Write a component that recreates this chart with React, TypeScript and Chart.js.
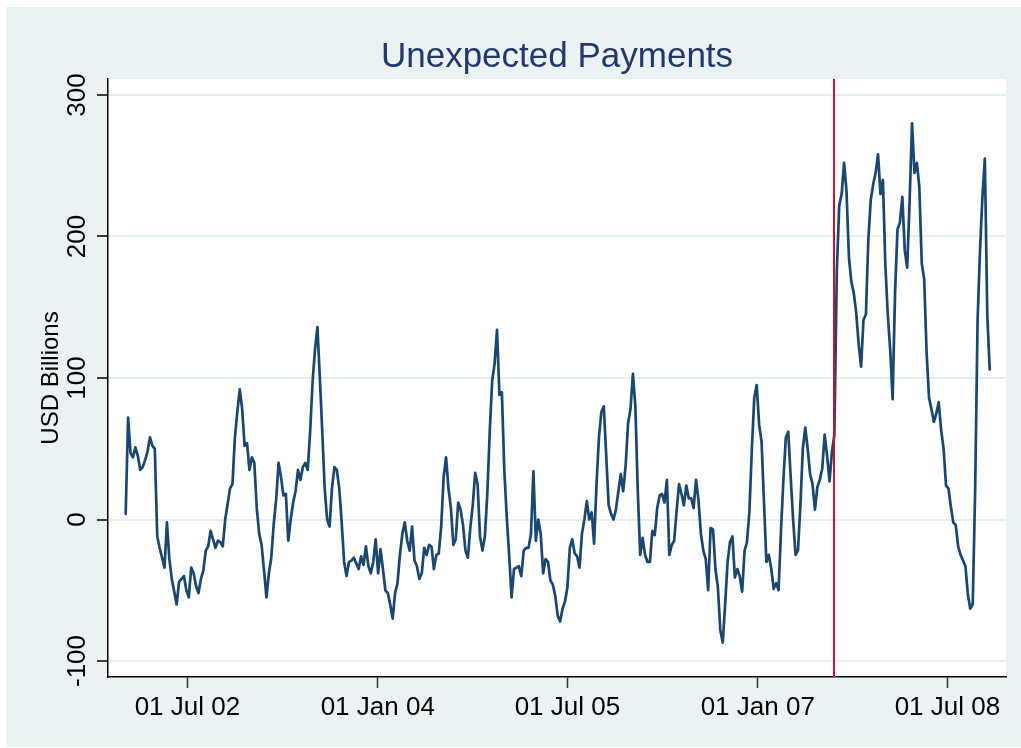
import React, { useEffect, useRef } from 'react';
import { Chart, registerables } from 'chart.js';

Chart.register(...registerables);

// ---- data ----
const START_DATE = '2002-01-04';
const STEP_DAYS = 7;
const values = [
  4, 72, 47, 44, 51, 45, 35, 37, 42, 48,
  58, 52, 50, -12, -20, -27, -34, -2, -28, -42,
  -51, -60, -44, -42, -40, -50, -55, -34, -38, -47,
  -52, -42, -36, -22, -19, -8, -14, -20, -15, -16,
  -19, 0, 11, 22, 25, 58, 76, 92, 78, 52,
  54, 35, 44, 40, 8, -10, -18, -36, -55, -38,
  -27, -3, 14, 40, 30, 17, 18, -15, 0, 12,
  20, 35, 28, 37, 40, 35, 62, 97, 120, 136,
  100, 62, 22, 0, -5, 22, 37, 35, 22, -2,
  -30, -40, -30, -29, -27, -31, -35, -26, -32, -19,
  -33, -38, -30, -14, -38, -21, -35, -50, -52, -60,
  -70, -52, -45, -25, -10, -2, -15, -22, -5, -29,
  -33, -42, -38, -20, -25, -18, -19, -35, -25, -24,
  -5, 30, 44, 22, 8, -18, -14, 12, 7, -4,
  -22, -27, -6, 10, 33, 25, -12, -22, -12, 18,
  62, 98, 110, 134, 88, 90, 35, 2, -25, -55,
  -35, -34, -33, -40, -22, -20, -20, -10, 34, -15,
  0, -10, -38, -28, -30, -43, -46, -54, -68, -72,
  -63, -58, -48, -20, -14, -24, -26, -34, -10, 0,
  13, 0, 5, -17, 25, 58, 76, 80, 45, 10,
  4, 0, 7, 20, 32, 20, 38, 68, 78, 103,
  80, 20, -25, -13, -25, -30, -30, -8, -11, 8,
  17, 18, 12, 28, -25, -18, -15, 6, 25, 18,
  10, 24, 15, 15, 8, 28, 14, -10, -22, -28,
  -50, -6, -7, -35, -48, -78, -87, -60, -30, -16,
  -12, -41, -35, -40, -51, -22, -16, 6, 50, 86,
  95, 67, 55, 12, -30, -25, -35, -49, -45, -50,
  -8, 28, 58, 62, 30, 0, -25, -22, 10, 50,
  65, 50, 32, 25, 7, 23, 28, 36, 60, 45,
  27, 48, 60, 175, 222, 230, 252, 232, 185, 168,
  160, 146, 124, 108, 141, 145, 198, 226, 237, 245,
  258, 230, 240, 180, 145, 120, 85, 160, 205, 210,
  228, 190, 178, 225, 280, 245, 252, 235, 181, 170,
  118, 86, 78, 69, 75, 83, 63, 50, 24, 22,
  9, -2, -4, -19, -25, -29, -33, -53, -63, -60,
  20, 140, 190, 228, 255, 145, 106,
];
const yTicks = [-100, 0, 100, 200, 300];
const yRange = [-111.3, 311.3];
const xTickDates = ['2002-07-01', '2004-01-01', '2005-07-01', '2007-01-01', '2008-07-01'];
const xRange = ['2001-11-14', '2008-12-17'];
const eventDate = '2007-08-09';
const MONTHS = ['Jan', 'Feb', 'Mar', 'Apr', 'May', 'Jun', 'Jul', 'Aug', 'Sep', 'Oct', 'Nov', 'Dec'];
const titleText = 'Unexpected Payments';
const yTitleText = 'USD Billions';

// ---- helpers ----
const DAY = 86400000;
const ms = (iso: string) => Date.parse(iso + 'T00:00:00Z');
const fmtDate = (v: number) => {
  const d = new Date(v);
  const dd = String(d.getUTCDate()).padStart(2, '0');
  const yy = String(d.getUTCFullYear() % 100).padStart(2, '0');
  return `${dd} ${MONTHS[d.getUTCMonth()]} ${yy}`;
};
const FONT = '"Liberation Sans", Arial, Helvetica, sans-serif';

export default function App() {
  const ref = useRef<HTMLCanvasElement | null>(null);

  useEffect(() => {
    document.body.style.margin = '0';
    const canvas = ref.current;
    if (!canvas) return;
    const start = ms(START_DATE);
    const points = values.map((v, i) => ({ x: start + i * STEP_DAYS * DAY, y: v }));

    const overlay = {
      id: 'overlay',
      beforeDraw(chart: any) {
        const { ctx, chartArea } = chart;
        ctx.save();
        ctx.fillStyle = '#FFFFFF';
        ctx.fillRect(chartArea.left, chartArea.top, chartArea.right - chartArea.left, chartArea.bottom - chartArea.top);
        ctx.restore();
      },
      afterDatasetsDraw(chart: any) {
        const { ctx, chartArea, scales } = chart;
        ctx.save();
        const xp = scales.x.getPixelForValue(ms(eventDate));
        ctx.strokeStyle = '#C8102E';
        ctx.lineWidth = 2;
        ctx.beginPath();
        ctx.moveTo(xp, chartArea.top);
        ctx.lineTo(xp, chartArea.bottom);
        ctx.stroke();

        ctx.font = `26px ${FONT}`;
        ctx.fillStyle = '#000000';
        ctx.textAlign = 'center';
        ctx.textBaseline = 'middle';
        const lx = scales.y.right - 30;
        yTicks.forEach((v) => {
          const y = scales.y.getPixelForValue(v);
          ctx.save();
          ctx.translate(lx, y);
          ctx.rotate(-Math.PI / 2);
          ctx.fillText(String(v), 0, 0);
          ctx.restore();
        });

        ctx.font = `35px ${FONT}`;
        ctx.fillStyle = '#22386B';
        ctx.textAlign = 'center';
        ctx.textBaseline = 'alphabetic';
        ctx.fillText(titleText, (chartArea.left + chartArea.right) / 2, 60);
        ctx.restore();
      },
    };

    const chart = new Chart(canvas, {
      type: 'line',
      data: {
        datasets: [
          {
            data: points,
            borderColor: '#1A476F',
            borderWidth: 2.7,
            borderJoinStyle: 'round',
            borderCapStyle: 'round',
            pointRadius: 0,
            tension: 0,
            fill: false,
          },
        ],
      },
      options: {
        animation: false,
        responsive: false,
        maintainAspectRatio: false,
        layout: { padding: { top: 72, right: 15, left: 0, bottom: 0 } },
        plugins: {
          legend: { display: false },
          tooltip: { enabled: false },
          title: { display: false },
        },
        scales: {
          x: {
            type: 'linear',
            min: ms(xRange[0]),
            max: ms(xRange[1]),
            afterBuildTicks: (s: any) => {
              s.ticks = xTickDates.map((d) => ({ value: ms(d) }));
            },
            afterFit: (s: any) => {
              s.height = 70;
            },
            grid: {
              drawOnChartArea: false,
              drawTicks: true,
              tickLength: 11,
              tickColor: '#333333',
              tickWidth: 1.5,
            },
            border: { display: true, color: '#000000', width: 1.5 },
            ticks: {
              callback: (v: any) => fmtDate(Number(v)),
              font: { family: FONT, size: 26 },
              color: '#000000',
              padding: 4,
              minRotation: 0,
              maxRotation: 0,
              autoSkip: false,
            },
          },
          y: {
            type: 'linear',
            min: yRange[0],
            max: yRange[1],
            afterBuildTicks: (s: any) => {
              s.ticks = yTicks.map((v) => ({ value: v }));
            },
            afterFit: (s: any) => {
              s.width = 102;
            },
            grid: {
              color: '#E6EFF1',
              lineWidth: 2,
              drawTicks: true,
              tickLength: 11,
              tickColor: '#000000',
              tickWidth: 1.5,
            },
            border: { display: true, color: '#000000', width: 1.5 },
            ticks: { display: false },
            title: {
              display: true,
              text: yTitleText,
              font: { family: FONT, size: 24 },
              color: '#000000',
              padding: { top: 31, bottom: 0 },
            },
          },
        },
      },
      plugins: [overlay],
    } as any);

    return () => chart.destroy();
  }, []);

  return (
    <div
      style={{
        position: 'absolute',
        left: 6,
        top: 7,
        width: 1015,
        height: 740,
        background: '#EAF2F3',
      }}
    >
      <canvas ref={ref} width={1015} height={740} style={{ display: 'block' }} />
    </div>
  );
}
